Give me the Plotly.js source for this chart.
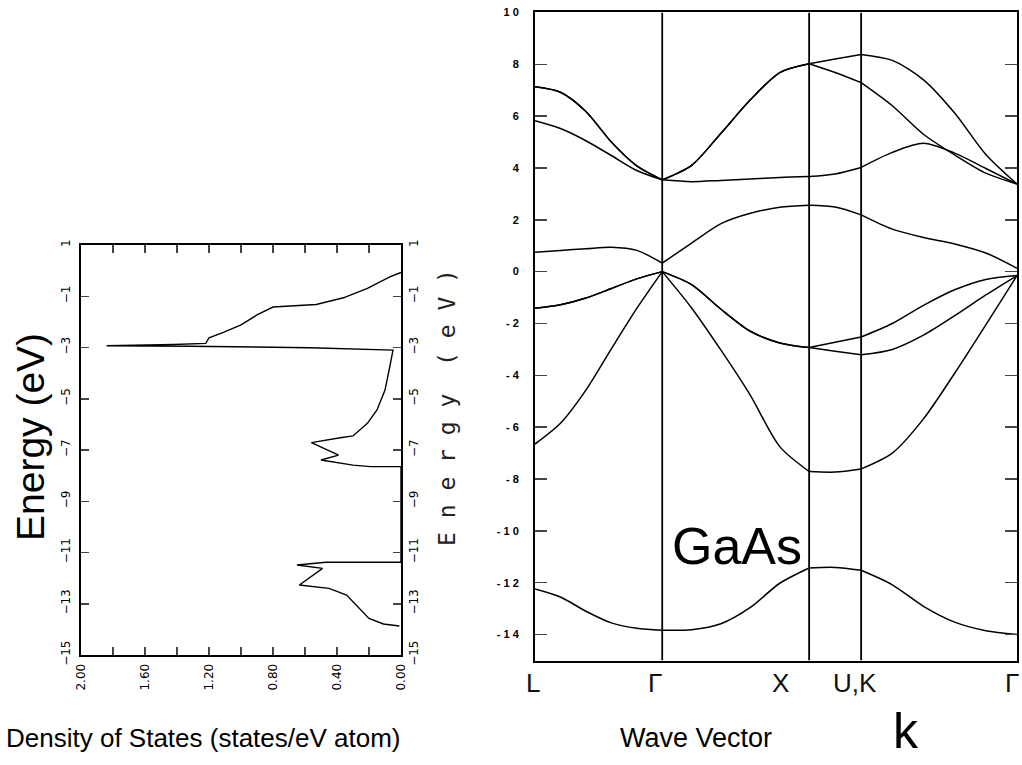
<!DOCTYPE html>
<html>
<head>
<meta charset="utf-8">
<script src="https://cdn.plot.ly/plotly-3.0.1.min.js"></script>
<style>html,body{margin:0;padding:0;background:#fff;}#chart{width:1022px;height:765px;}</style>
</head>
<body>
<div id="chart"></div>
<script>
// ---------- DATA ----------
// Density of states (left panel)
const dosEnergy = [-0.07, -0.24, -0.69, -1.06, -1.32, -1.39, -1.42, -1.73, -2.12, -2.41, -2.62, -2.84, -2.88, -2.93, -2.95, -3.01, -3.10, -3.75, -4.66, -5.44, -5.96, -6.45, -6.52, -6.71, -7.20, -7.39, -7.59, -7.65, -7.65, -7.65, -11.38, -11.38, -11.49, -11.62, -12.27, -12.40, -12.66, -13.18, -13.57, -13.79, -13.87];
const dosValue  = [0.00, 0.07, 0.21, 0.36, 0.53, 0.69, 0.80, 0.90, 1.00, 1.11, 1.20, 1.22, 1.42, 1.84, 1.32, 0.57, 0.05, 0.07, 0.10, 0.15, 0.21, 0.30, 0.38, 0.56, 0.39, 0.50, 0.30, 0.19, 0.02, 0.00, 0.00, 0.47, 0.65, 0.49, 0.635, 0.45, 0.34, 0.26, 0.20, 0.11, 0.01];
const dosTickVals = [2.0, 1.6, 1.2, 0.8, 0.4, 0.0];
const energyTickVals = [-15, -13, -11, -9, -7, -5, -3, -1, 1];

// Band structure (right panel)
const kLabels = ['L', 'Γ', 'X', 'U,K', 'Γ'];
const kNodes  = [0, 0.866, 1.866, 2.220, 3.281];
const fracLong  = [0, 0.2, 0.4, 0.6, 0.8, 1];
const fracShort = [0, 0.5, 1];
// each band: [L-Γ, Γ-X, X-U, K-Γ]
const band1 = [[-12.24, -12.55, -13.10, -13.55, -13.76, -13.83], [-13.83, -13.81, -13.58, -12.95, -12.02, -11.43], [-11.43, -11.41, -11.52], [-11.52, -12.08, -12.91, -13.52, -13.85, -14.00]];
const band2 = [[-6.65, -5.85, -4.57, -2.98, -1.42, 0.00], [0.00, -1.40, -3.03, -4.77, -6.75, -7.71], [-7.71, -7.73, -7.61], [-7.61, -7.00, -5.68, -3.92, -2.05, -0.15]];
const band3 = [[-1.41, -1.28, -1.02, -0.65, -0.28, 0.00], [0.00, -0.50, -1.45, -2.30, -2.75, -2.93], [-2.93, -2.72, -2.52], [-2.52, -2.00, -1.30, -0.70, -0.30, -0.15]];
const band4 = [[-1.41, -1.28, -1.02, -0.65, -0.28, 0.00], [0.00, -0.50, -1.45, -2.30, -2.75, -2.93], [-2.93, -3.07, -3.21], [-3.21, -3.00, -2.45, -1.70, -0.90, -0.15]];
const band5 = [[0.75, 0.82, 0.88, 0.94, 0.82, 0.33], [0.33, 1.10, 1.85, 2.25, 2.48, 2.56], [2.56, 2.49, 2.19], [2.19, 1.64, 1.32, 1.07, 0.72, 0.13]];
const band6 = [[5.82, 5.52, 5.05, 4.48, 3.90, 3.54], [3.54, 3.47, 3.52, 3.57, 3.63, 3.67], [3.67, 3.77, 4.02], [4.02, 4.60, 4.95, 4.57, 3.98, 3.38]];
const band7 = [[7.13, 6.92, 6.18, 5.00, 4.08, 3.54], [3.54, 4.10, 5.34, 6.63, 7.68, 8.02], [8.02, 7.68, 7.29], [7.29, 6.40, 5.30, 4.50, 3.80, 3.38]];
const band8 = [[7.13, 6.92, 6.18, 5.00, 4.08, 3.54], [3.54, 4.10, 5.34, 6.63, 7.68, 8.02], [8.02, 8.20, 8.38], [8.38, 8.15, 7.40, 6.12, 4.52, 3.38]];
const bands = [band1, band2, band3, band4, band5, band6, band7, band8];
const bandTickVals = [-14, -12, -10, -8, -6, -4, -2, 0, 2, 4, 6, 8, 10];
const bandTickText = ['- 1 4', '- 1 2', '- 1 0', '- 8', '- 6', '- 4', '- 2', '0', '2', '4', '6', '8', '1 0'];

// ---------- BUILD ----------
const W = 1022, H = 765;
const fx = p => p / W;          // pixel -> paper x
const fy = p => 1 - p / H;      // pixel -> paper y

const traces = [];
traces.push({
  x: dosValue, y: dosEnergy, xaxis: 'x', yaxis: 'y', type: 'scatter', mode: 'lines',
  line: {color: '#000', width: 1.4}, hoverinfo: 'skip'
});
// invisible trace to carry the right-hand energy labels of the DOS panel
traces.push({x: [0], y: [-15], xaxis: 'x', yaxis: 'y3', type: 'scatter', mode: 'markers',
  marker: {opacity: 0}, hoverinfo: 'skip'});

bands.forEach(b => {
  const xs = [], ys = [];
  b.forEach((seg, s) => {
    const fr = seg.length === 3 ? fracShort : fracLong;
    const k0 = kNodes[s], k1 = kNodes[s + 1];
    seg.forEach((e, i) => { xs.push(k0 + fr[i] * (k1 - k0)); ys.push(e); });
    xs.push(null); ys.push(null);
  });
  traces.push({x: xs, y: ys, xaxis: 'x2', yaxis: 'y2', type: 'scatter', mode: 'lines',
    line: {color: '#000', width: 1.5, shape: 'spline', smoothing: 0.8}, connectgaps: false, hoverinfo: 'skip'});
});

const shapes = kNodes.slice(1, 4).map(k => ({
  type: 'line', xref: 'x2', yref: 'y2', x0: k, x1: k, y0: -15, y1: 10,
  line: {color: '#000', width: 1.8}
}));

const sans = 'Liberation Sans, Arial, sans-serif';
const tickFontL = {family: 'DejaVu Sans, Liberation Sans, sans-serif', size: 12, color: '#000'};
const labelPx = [533, 655, 780, 855, 1012];
const annotations = [];
kLabels.forEach((t, i) => annotations.push({
  text: t, xref: 'paper', yref: 'paper', x: fx(labelPx[i]), y: fy(683), showarrow: false,
  xanchor: 'center', yanchor: 'middle',
  font: {family: sans, size: 26, color: '#111'}
}));
annotations.push(
  {text: 'GaAs', xref: 'paper', yref: 'paper', x: fx(737), y: fy(546), showarrow: false,
   xanchor: 'center', yanchor: 'middle', font: {family: sans, size: 52, color: '#000'}},
  {text: 'Energy (eV)', xref: 'paper', yref: 'paper', x: fx(30), y: fy(437), showarrow: false, textangle: -90,
   xanchor: 'center', yanchor: 'middle', font: {family: sans, size: 39, color: '#000'}},
  {text: 'E n e r g y  ( e V )', xref: 'paper', yref: 'paper', x: fx(447), y: fy(408), showarrow: false, textangle: -90,
   xanchor: 'center', yanchor: 'middle', font: {family: 'DejaVu Sans Mono, Liberation Mono, monospace', size: 23, color: '#222'}},
  {text: 'Density of States (states/eV atom)', xref: 'paper', yref: 'paper', x: fx(403), y: fy(738), showarrow: false,
   xanchor: 'right', yanchor: 'middle', font: {family: sans, size: 26, color: '#000'}},
  {text: 'Wave Vector', xref: 'paper', yref: 'paper', x: fx(696), y: fy(738), showarrow: false,
   xanchor: 'center', yanchor: 'middle', font: {family: sans, size: 27, color: '#000'}},
  {text: 'k', xref: 'paper', yref: 'paper', x: fx(906), y: fy(731), showarrow: false,
   xanchor: 'center', yanchor: 'middle', font: {family: sans, size: 50, color: '#000'}}
);

const layout = {
  width: W, height: H, margin: {l: 0, r: 0, t: 0, b: 0, pad: 0},
  paper_bgcolor: '#fff', plot_bgcolor: '#fff', showlegend: false,
  xaxis: {
    domain: [fx(81), fx(401)], range: [2, 0], anchor: 'y',
    tickvals: dosTickVals, tickformat: '.2f', tickangle: -90, ticks: 'inside', ticklen: 8, tickwidth: 1.5,
    minor: {dtick: 0.2, tick0: 0, ticks: 'inside', ticklen: 8, tickwidth: 1.5, showgrid: false},
    showline: true, linewidth: 2, linecolor: '#000', mirror: 'ticks', showgrid: false, zeroline: false,
    tickfont: tickFontL, ticklabelstandoff: 2
  },
  yaxis: {
    domain: [fy(655), fy(245)], range: [-15, 1], anchor: 'x',
    tickvals: energyTickVals, tickangle: -90, ticks: 'inside', ticklen: 8, tickwidth: 1.5,
    showline: true, linewidth: 2, linecolor: '#000', mirror: 'ticks', showgrid: false, zeroline: false,
    tickfont: tickFontL, ticklabelstandoff: 4
  },
  yaxis3: {
    overlaying: 'y', side: 'right', anchor: 'x', range: [-15, 1],
    tickvals: energyTickVals, tickangle: -90, ticks: '', showline: false, showgrid: false, zeroline: false,
    tickfont: tickFontL, ticklabelstandoff: 4
  },
  xaxis2: {
    domain: [fx(535), fx(1017)], range: [0, kNodes[kNodes.length - 1]], anchor: 'y2',
    showticklabels: false, ticks: '', showline: true, linewidth: 2, linecolor: '#000', mirror: true,
    showgrid: false, zeroline: false
  },
  yaxis2: {
    domain: [fy(660.5), fy(12.4)], range: [-15, 10], anchor: 'x2',
    tickvals: bandTickVals, ticktext: bandTickText, ticks: 'inside', ticklen: 12, tickwidth: 1.5,
    showline: true, linewidth: 2, linecolor: '#000', mirror: 'ticks', showgrid: false, zeroline: false,
    tickfont: {family: sans, size: 11, color: '#000', weight: 'bold'},
    ticklabelstandoff: 12
  },
  shapes: shapes,
  annotations: annotations
};

Plotly.newPlot('chart', traces, layout, {staticPlot: true, displayModeBar: false});
</script>
</body>
</html>
